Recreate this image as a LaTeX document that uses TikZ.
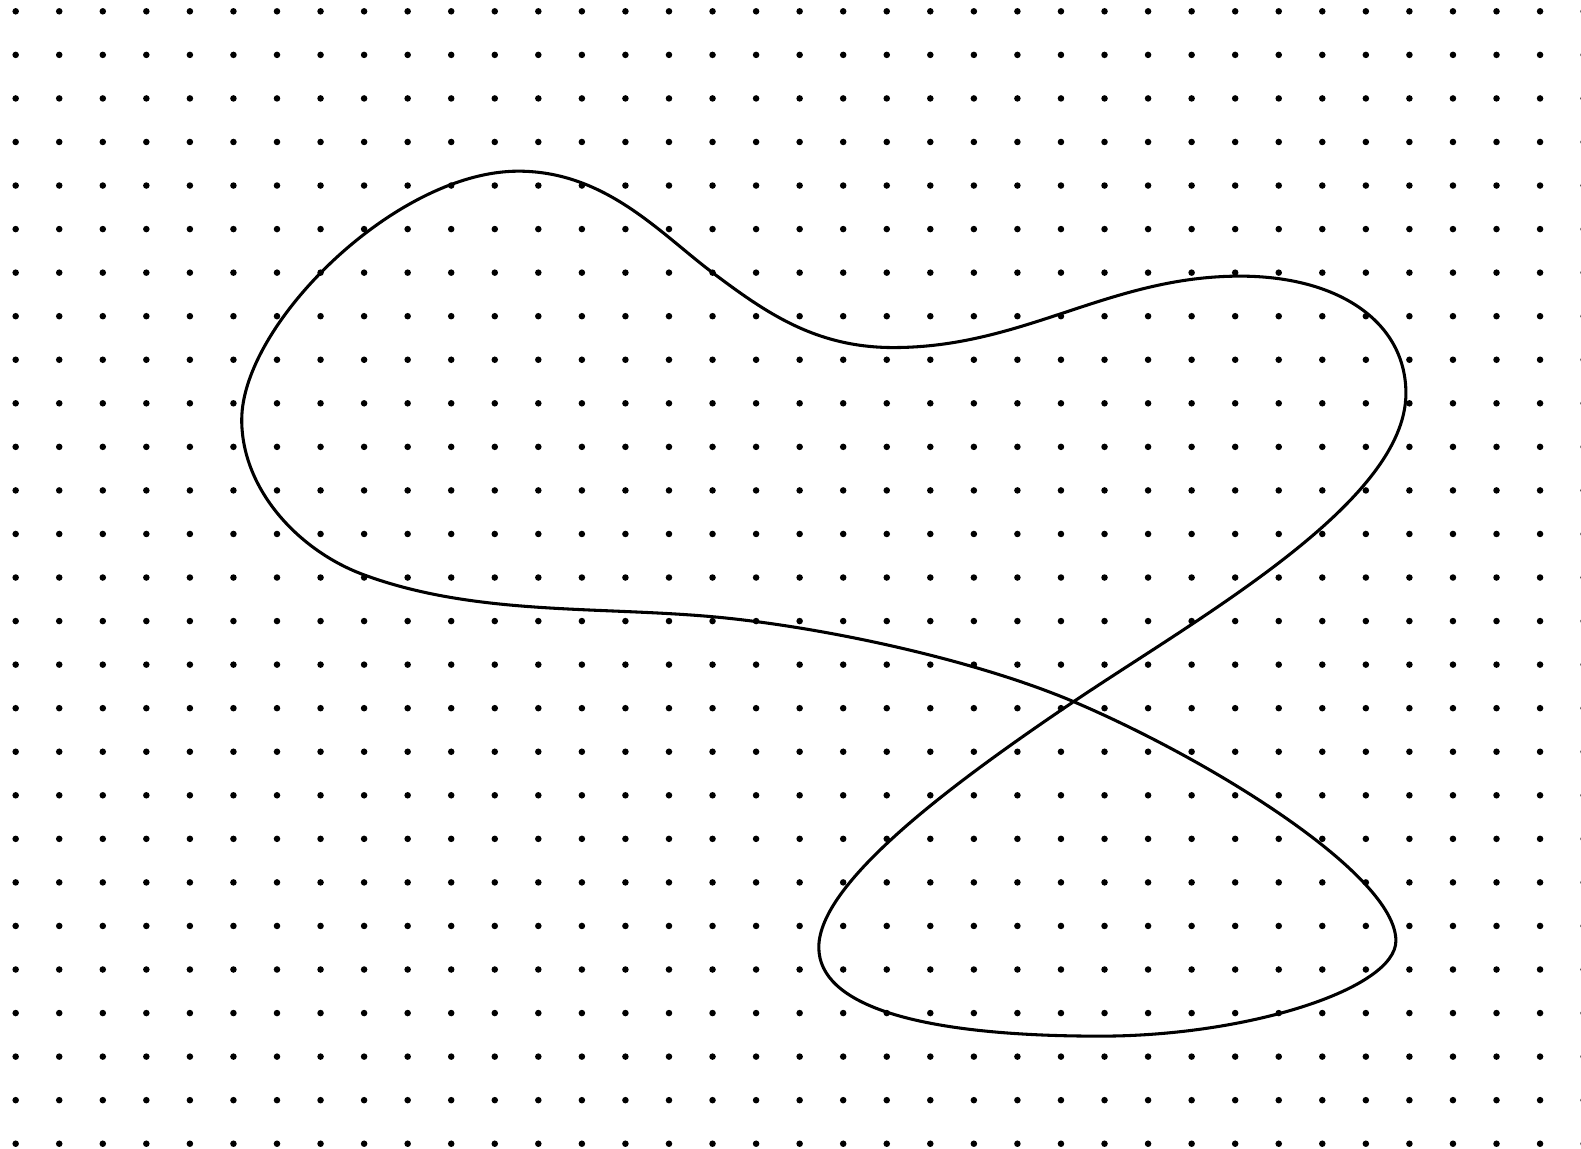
\documentclass[tikz,border=0pt]{standalone}
\usepackage{tikz}
\begin{document}
\begin{tikzpicture}[
      gdot/.style={fill=black},
      loopline/.style={draw=black, line width=2pt, line join=round}]
    \clip (-0.36,0.26) rectangle (35.94,-26.10);
    \foreach \i in {0,...,36}
      \foreach \j in {0,...,26}
        \fill[gdot] (\i,-\j) circle (0.075);
    \draw[loopline] (11.54,-3.67)
      .. controls (13.54,-3.67) and (14.8,-5.1) .. (16,-6)
      .. controls (17.2,-6.9) and (18.35,-7.72) .. (20.15,-7.72)
      .. controls (23.15,-7.72) and (25.11,-6.08) .. (28.11,-6.08)
      .. controls (30.4,-6.08) and (31.92,-7.15) .. (31.92,-8.77)
      .. controls (31.92,-11.27) and (27.2,-13.89) .. (24.29,-15.85)
      .. controls (21.55,-17.7) and (18.44,-19.99) .. (18.44,-21.49)
      .. controls (18.44,-22.82) and (20.7,-23.53) .. (24.9,-23.53)
      .. controls (28.3,-23.53) and (31.69,-22.44) .. (31.69,-21.34)
      .. controls (31.69,-19.84) and (27.51,-17.22) .. (24.29,-15.85)
      .. controls (21.99,-14.875) and (18.49,-14.125) .. (16,-13.9)
      .. controls (13.31,-13.66) and (10.53,-13.87) .. (8,-12.94)
      .. controls (6.5,-12.39) and (5.19,-10.98) .. (5.19,-9.38)
      .. controls (5.19,-7.18) and (8.74,-3.67) .. cycle;
  \end{tikzpicture}
\end{document}
